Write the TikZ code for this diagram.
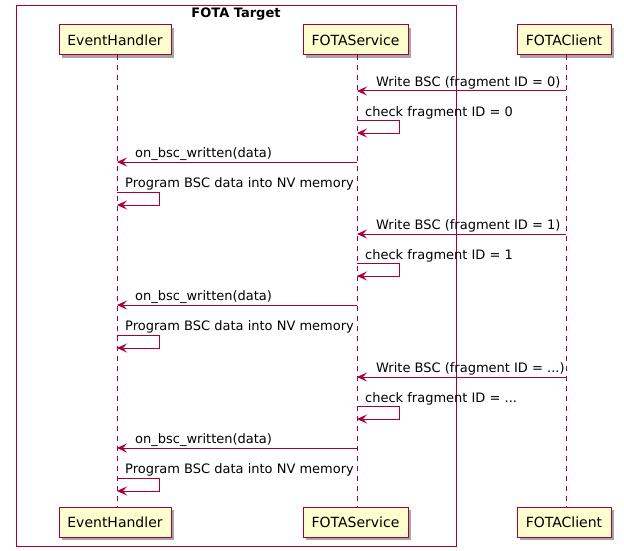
\documentclass[tikz,border=0pt]{standalone}
\usepackage{fontspec}
\setmainfont{DejaVu Sans}
\usetikzlibrary{arrows.meta,shadows}
\definecolor{umlred}{HTML}{A80036}
\definecolor{umlfill}{HTML}{FEFECE}
\newcommand\fragdots{...}
\tikzset{
	actor/.style={draw=umlred,fill=umlfill,line width=1pt,minimum height=30pt,inner sep=0pt,
		font=\fontsize{14}{16}\selectfont,
		drop shadow={shadow xshift=3pt,shadow yshift=-3pt,opacity=0.35,fill=black}},
	life/.style={umlred,line width=0.8pt,dash pattern=on 5pt off 5pt},
	msg/.style={umlred,line width=1pt,-{Stealth[length=10pt,width=9pt,inset=4pt]}},
	lbl/.style={font=\fontsize{13}{15}\selectfont,anchor=base west,inner sep=0pt}
}
\begin{document}
\begin{tikzpicture}[x=1pt,y=-1pt]
	\useasboundingbox (0,0) rectangle (624,551);
	\draw [umlred,line width=1pt] (16,6) rectangle (456,546);
	\node (title) [font=\fontsize{13}{15}\selectfont\bfseries,inner sep=0pt] at (236,14) {FOTA Target};

	\node (ehT) [actor,minimum width=112pt] at (115,40) {EventHandler};
	\node (fsT) [actor,minimum width=105pt] at (355.5,40) {FOTAService};
	\node (fcT) [actor,minimum width=94pt] at (564,40) {FOTAClient};
	\node (ehB) [actor,minimum width=112pt] at (115,522) {EventHandler};
	\node (fsB) [actor,minimum width=105pt] at (355.5,522) {FOTAService};
	\node (fcB) [actor,minimum width=94pt] at (564,522) {FOTAClient};

	\draw [life] ([xshift=2pt]ehT.south) -- ([xshift=2pt]ehB.north);
	\draw [life] ([xshift=1.5pt]fsT.south) -- ([xshift=1.5pt]fsB.north);
	\draw [life] ([xshift=2pt]fcT.south) -- ([xshift=2pt]fcB.north);

	\foreach \y/\id [count=\i] in {91/0,234/1,377/\fragdots} {
		\coordinate (eh\i) at (117,\y);
		\coordinate (fs\i) at (357,\y);
		\coordinate (fc\i) at (566,\y);
		% write request
		\draw [msg] (fc\i) -- (fs\i);
		\node (w\i) [lbl] at ([xshift=19pt,yshift=5pt]fs\i) {Write BSC (fragment ID = \id)};
		% check
		\draw [msg] ([yshift=-29pt]fs\i) -- ++(42,0) -- ++(0,13) -- ([yshift=-42pt]fs\i);
		\node (c\i) [lbl] at ([xshift=8pt,yshift=-25pt]fs\i) {check fragment ID = \id};
		% callback
		\draw [msg] ([yshift=-71pt]fs\i) -- ([yshift=-71pt]eh\i);
		\node (o\i) [lbl] at ([xshift=18pt,yshift=-66pt]eh\i) {on\_bsc\_written(data)};
		% program
		\draw [msg] ([yshift=-101pt]eh\i) -- ++(42,0) -- ++(0,13) -- ([yshift=-114pt]eh\i);
		\node (p\i) [lbl] at ([xshift=8pt,yshift=-96pt]eh\i) {Program BSC data into NV memory};
	}
\end{tikzpicture}
\end{document}
